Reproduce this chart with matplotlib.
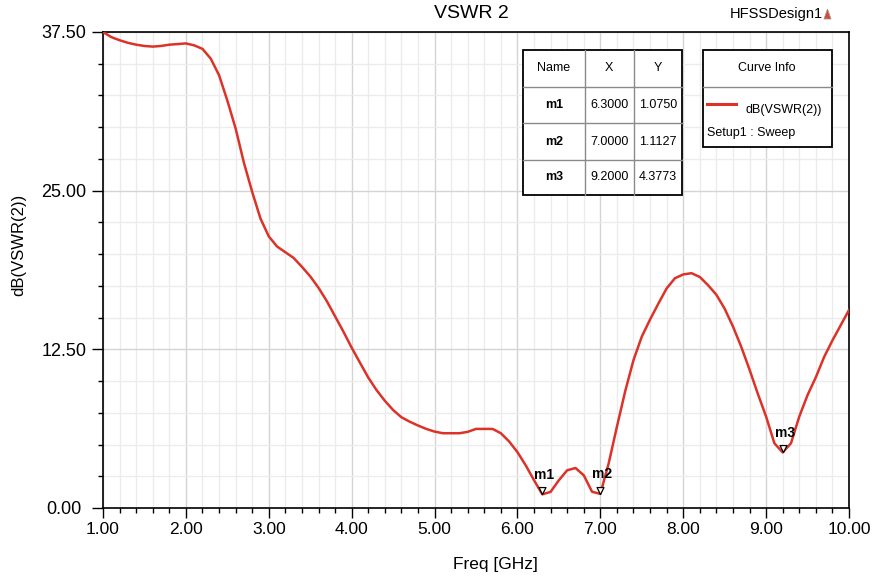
import numpy as np
import matplotlib
matplotlib.use("Agg")
import matplotlib.pyplot as plt
from matplotlib.ticker import MultipleLocator, FormatStrFormatter
from matplotlib.markers import MarkerStyle
from matplotlib.path import Path
from matplotlib.patches import Rectangle, Polygon

plt.rcParams['font.family'] = ['Liberation Sans', 'DejaVu Sans']

# Frequency sweep (GHz) and dB(VSWR(2)) response
freq = np.linspace(1.0, 10.0, 91)
vswr_db = [
    37.5, 37.1, 36.85, 36.65, 36.5, 36.4, 36.35, 36.4, 36.5, 36.55,
    36.6, 36.45, 36.17, 35.4, 34.1, 32.1, 29.9, 27.2, 24.9, 22.8,
    21.4, 20.6, 20.15, 19.7, 19.0, 18.25, 17.35, 16.3, 15.1, 13.9,
    12.63, 11.45, 10.28, 9.29, 8.45, 7.72, 7.15, 6.8, 6.5, 6.23,
    6.02, 5.89, 5.89, 5.89, 6.0, 6.23, 6.23, 6.23, 5.89, 5.24,
    4.4, 3.36, 2.19, 1.075, 1.27, 2.19, 2.97, 3.15, 2.58, 1.28,
    1.1127, 3.5, 6.4, 9.2, 11.65, 13.5, 14.85, 16.1, 17.3, 18.1,
    18.4, 18.5, 18.2, 17.55, 16.8, 15.7, 14.3, 12.7, 10.9, 9.0,
    7.2, 5.1, 4.3773, 5.1, 7.2, 8.9, 10.3, 11.9, 13.2, 14.4,
    15.6,
]

# Markers
marker_names = ["m1", "m2", "m3"]
marker_x = [6.3000, 7.0000, 9.2000]
marker_y = [1.0750, 1.1127, 4.3773]

W, H = 878, 577
fig = plt.figure(figsize=(W / 100, H / 100), dpi=100)
ax = fig.add_axes([103 / W, 1 - 508 / H, 746 / W, 476 / H])

red = "#dc3228"
ax.plot(freq, vswr_db, color=red, lw=1.8, zorder=3, clip_on=True)

ax.set_xlim(1.0, 10.0)
ax.set_ylim(0.0, 37.5)
ax.xaxis.set_major_locator(MultipleLocator(1.0))
ax.xaxis.set_minor_locator(MultipleLocator(0.2))
ax.yaxis.set_major_locator(MultipleLocator(12.5))
ax.yaxis.set_minor_locator(MultipleLocator(2.5))
ax.xaxis.set_major_formatter(FormatStrFormatter("%.2f"))
ax.yaxis.set_major_formatter(FormatStrFormatter("%.2f"))

ax.grid(which="major", color="#d4d4d4", lw=1.0, zorder=0)
ax.grid(which="minor", color="#ececec", lw=1.0, zorder=0)
ax.set_axisbelow(True)

for s in ax.spines.values():
    s.set_color("black")
    s.set_linewidth(1.2)

ax.tick_params(which="major", direction="out", length=7, width=1.0,
               labelsize=12.5, color="black")
ax.tick_params(axis="y", which="major", length=8, pad=20, labelsize=13)
ax.tick_params(axis="x", which="major", pad=3)
ax.tick_params(which="minor", direction="out", length=3.5, width=1.0, color="black")
for lab in ax.get_yticklabels():
    lab.set_horizontalalignment("center")

ax.set_xlabel("Freq [GHz]", fontsize=12.5)
ax.xaxis.set_label_coords((495.5 - 103) / 746, (508 - 564) / 476)
ax.xaxis.label.set_va("center")
ax.set_ylabel("dB(VSWR(2))", fontsize=12)
ax.yaxis.set_label_coords((19 - 103) / 746, (508 - 245) / 476)
ax.yaxis.label.set_va("center")

# Marker triangles with the tip on the curve point
tri = MarkerStyle(Path([(-0.5, 1.0), (0.5, 1.0), (0.0, 0.0), (-0.5, 1.0)],
                       [Path.MOVETO, Path.LINETO, Path.LINETO, Path.CLOSEPOLY]))
ax.plot(marker_x, marker_y, linestyle="none", marker=tri, markersize=10,
        markerfacecolor="white", markeredgecolor="black", markeredgewidth=0.9,
        zorder=4, clip_on=False)
for name, mx, my in zip(marker_names, marker_x, marker_y):
    ax.annotate(name, (mx, my), xytext=(1.5, 14), textcoords="offset points",
                ha="center", va="center", fontsize=10, fontweight="bold", zorder=5)

# Titles
fig.text(471 / W, 1 - 14 / H, "VSWR 2", fontsize=14, ha="center", va="center")
fig.text(823 / W, 1 - 14 / H, "HFSSDesign1", fontsize=10.5, ha="right", va="center")

# Overlay in pixel coordinates for the tables and logo
ov = fig.add_axes([0, 0, 1, 1], zorder=10)
ov.set_xlim(0, W)
ov.set_ylim(H, 0)
ov.axis("off")
ov.patch.set_alpha(0)

ov.add_patch(Polygon([(824, 19), (827.5, 9), (831, 19)], closed=True,
                     facecolor="#d9453a", edgecolor="#9a9a9a", lw=0.6))

# Marker table
cols = [522.7, 585.0, 633.7, 681.7]
rows = [50.0, 86.7, 123.3, 160.0, 195.0]
ov.add_patch(Rectangle((cols[0], rows[0]), cols[-1] - cols[0], rows[-1] - rows[0],
                       facecolor="white", edgecolor="none"))
for c in cols[1:-1]:
    ov.plot([c, c], [rows[0], rows[-1]], color="#8a8a8a", lw=1.0)
for r in rows[1:-1]:
    ov.plot([cols[0], cols[-1]], [r, r], color="#8a8a8a", lw=1.0)
ov.add_patch(Rectangle((cols[0], rows[0]), cols[-1] - cols[0], rows[-1] - rows[0],
                       facecolor="none", edgecolor="black", lw=1.3))
headers = ["Name", "X", "Y"]
for j, htxt in enumerate(headers):
    ov.text((cols[j] + cols[j + 1]) / 2, (rows[0] + rows[1]) / 2, htxt,
            ha="center", va="center", fontsize=9)
for i, (name, mx, my) in enumerate(zip(marker_names, marker_x, marker_y)):
    yc = (rows[i + 1] + rows[i + 2]) / 2
    ov.text((cols[0] + cols[1]) / 2, yc, name, ha="center", va="center",
            fontsize=9, fontweight="bold")
    ov.text((cols[1] + cols[2]) / 2, yc, f"{mx:.4f}", ha="center", va="center", fontsize=9)
    ov.text((cols[2] + cols[3]) / 2, yc, f"{my:.4f}", ha="center", va="center", fontsize=9)

# Curve info box
bx0, bx1, by0, by1, by2 = 702.7, 831.7, 50.0, 86.7, 146.7
ov.add_patch(Rectangle((bx0, by0), bx1 - bx0, by2 - by0, facecolor="white",
                       edgecolor="black", lw=1.3))
ov.plot([bx0, bx1], [by1, by1], color="#8a8a8a", lw=1.0)
ov.text((bx0 + bx1) / 2, (by0 + by1) / 2, "Curve Info", ha="center", va="center", fontsize=9)
ov.plot([707, 736], [104, 104], color=red, lw=2.2)
ov.text(784, 110, "dB(VSWR(2))", ha="center", va="center", fontsize=9)
ov.text(707, 132.7, "Setup1 : Sweep", ha="left", va="center", fontsize=9)

fig.savefig("out.png", dpi=100, facecolor="white")
